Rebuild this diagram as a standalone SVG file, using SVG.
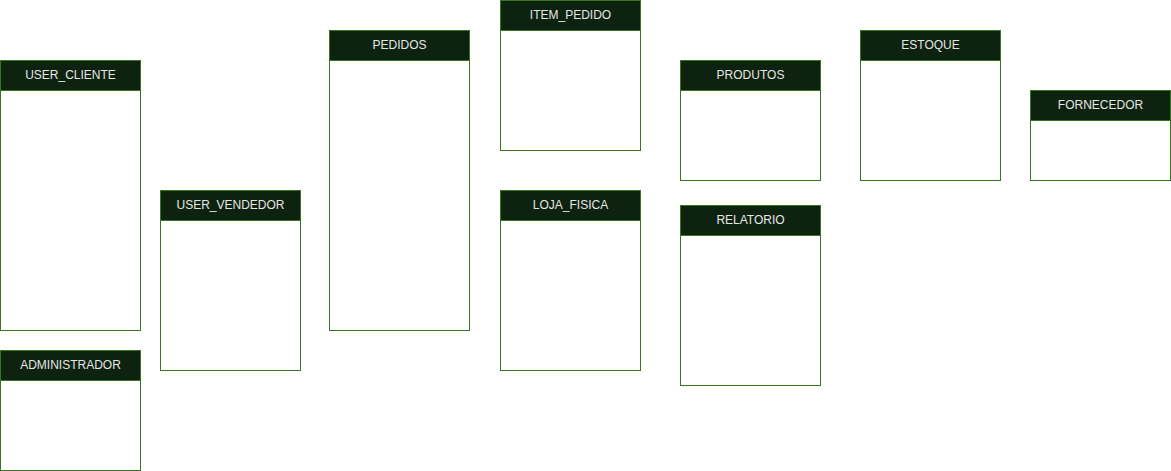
<svg xmlns="http://www.w3.org/2000/svg" width="1171" height="471" viewBox="0 0 1171 471">
<style>
.body{fill:#ffffff;stroke:#38761d;stroke-width:1}
.head{fill:#0e2210;stroke:#38761d;stroke-width:1}
.t{font-family:"Liberation Sans",Arial,sans-serif;font-size:12px;fill:#e6e6e6;text-anchor:middle}
</style>
<rect width="1171" height="471" fill="#ffffff"/>
<g id="connectors"></g>
<g id="USER_CLIENTE"><rect class="body" x="0.5" y="60.5" width="140" height="270"/><rect class="head" x="0.5" y="60.5" width="140" height="30"/><text class="t" x="70.5" y="78.5">USER_CLIENTE</text></g>
<g id="ADMINISTRADOR"><rect class="body" x="0.5" y="350.5" width="140" height="120"/><rect class="head" x="0.5" y="350.5" width="140" height="30"/><text class="t" x="70.5" y="368.5">ADMINISTRADOR</text></g>
<g id="USER_VENDEDOR"><rect class="body" x="160.5" y="190.5" width="140" height="180"/><rect class="head" x="160.5" y="190.5" width="140" height="30"/><text class="t" x="230.5" y="208.5">USER_VENDEDOR</text></g>
<g id="PEDIDOS"><rect class="body" x="329.5" y="30.5" width="140" height="300"/><rect class="head" x="329.5" y="30.5" width="140" height="30"/><text class="t" x="399.5" y="48.5">PEDIDOS</text></g>
<g id="ITEM_PEDIDO"><rect class="body" x="500.5" y="0.5" width="140" height="150"/><rect class="head" x="500.5" y="0.5" width="140" height="30"/><text class="t" x="570.5" y="18.5">ITEM_PEDIDO</text></g>
<g id="LOJA_FISICA"><rect class="body" x="500.5" y="190.5" width="140" height="180"/><rect class="head" x="500.5" y="190.5" width="140" height="30"/><text class="t" x="570.5" y="208.5">LOJA_FISICA</text></g>
<g id="PRODUTOS"><rect class="body" x="680.5" y="60.5" width="140" height="120"/><rect class="head" x="680.5" y="60.5" width="140" height="30"/><text class="t" x="750.5" y="78.5">PRODUTOS</text></g>
<g id="RELATORIO"><rect class="body" x="680.5" y="205.5" width="140" height="180"/><rect class="head" x="680.5" y="205.5" width="140" height="30"/><text class="t" x="750.5" y="223.5">RELATORIO</text></g>
<g id="ESTOQUE"><rect class="body" x="860.5" y="30.5" width="140" height="150"/><rect class="head" x="860.5" y="30.5" width="140" height="30"/><text class="t" x="930.5" y="48.5">ESTOQUE</text></g>
<g id="FORNECEDOR"><rect class="body" x="1030.5" y="90.5" width="140" height="90"/><rect class="head" x="1030.5" y="90.5" width="140" height="30"/><text class="t" x="1100.5" y="108.5">FORNECEDOR</text></g>
</svg>
